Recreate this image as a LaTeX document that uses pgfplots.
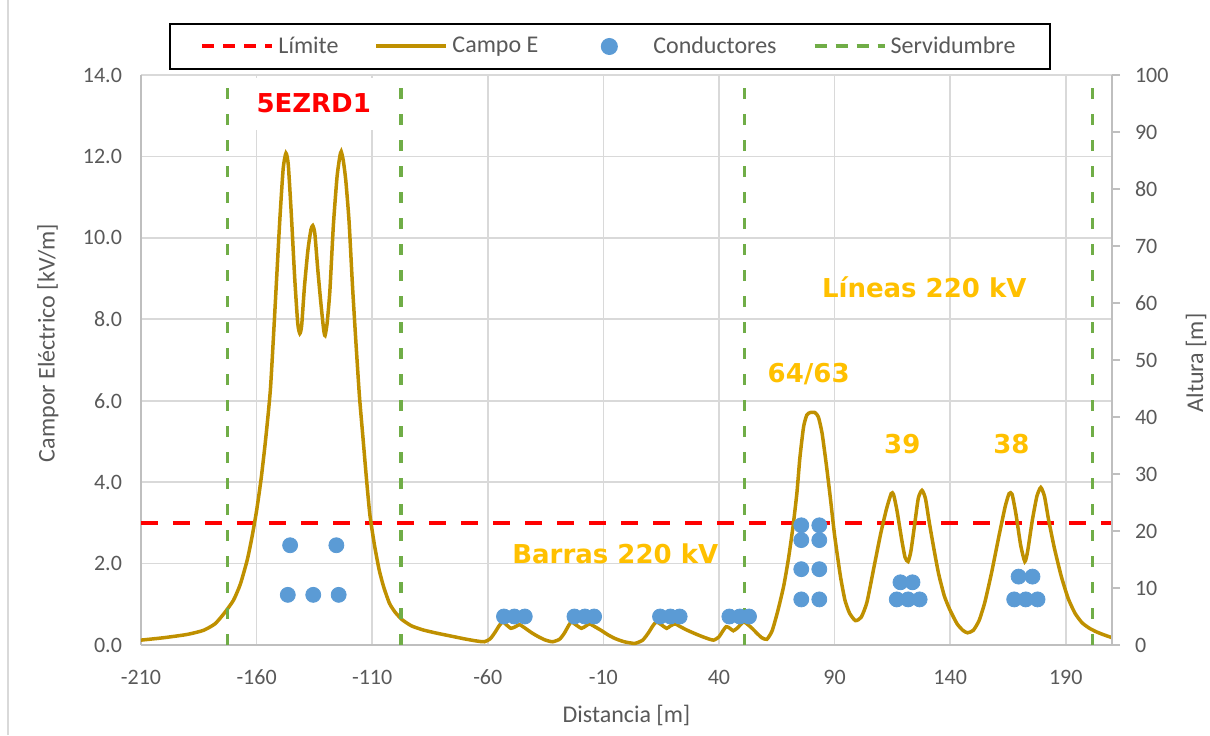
\documentclass[border=0pt]{standalone}
\usepackage{fontspec}
\setmainfont{Carlito}
\newfontfamily\annfont{DejaVu Sans}
\usepackage{pgfplots}
\pgfplotsset{compat=1.18}
\definecolor{gold}{HTML}{BF9000}
\definecolor{cblue}{HTML}{5B9BD5}
\definecolor{sgreen}{HTML}{70AD47}
\definecolor{txtgray}{HTML}{595959}
\definecolor{gridgray}{HTML}{D9D9D9}
\definecolor{axgray}{HTML}{BFBFBF}
\definecolor{ann}{HTML}{FFC000}
\pgfplotsset{
  linelegend/.style={legend image code/.code={\draw[##1] (0pt,0pt) -- (35pt,0pt);}},
  dotlegend/.style={legend image code/.code={\path[draw=none,fill=none] (0pt,0pt) -- (37.5pt,0pt);\draw[##1] plot coordinates {(17.5pt,0pt)};}},
}

\pgfplotstableread{
x y
-210 0.12
-200 0.18
-190 0.26
-183 0.36
-178 0.52
-174 0.78
-170 1.1
-167 1.5
-164 2.1
-162 2.65
-160 3.3
-158 4.1
-156 5.1
-154 6.3
-152 8.3
-150 10.4
-148.5 11.7
-147.3 12.08
-146.3 11.8
-145 10.6
-143.5 9.0
-142.2 7.9
-141.3 7.65
-140.5 7.85
-139.3 8.8
-137.8 9.7
-136.5 10.2
-135.7 10.3
-134.8 10.1
-133.5 9.2
-132.2 8.4
-131.0 7.75
-130.4 7.6
-129.5 7.9
-128.3 8.7
-126.8 10.3
-125.2 11.5
-124.0 12.0
-123.4 12.12
-122.5 11.9
-121.4 11.4
-120 10.4
-118.5 8.8
-117 7.4
-115.5 6.1
-114 5.1
-112.5 4.1
-111 3.2
-109 2.45
-107 1.85
-105 1.42
-102.5 1.02
-100 0.8
-97 0.62
-93 0.47
-88 0.37
-82 0.29
-76 0.22
-70 0.15
-65 0.1
-61.5 0.08
-59 0.15
-57 0.3
-55 0.48
-53.5 0.57
-52 0.5
-50 0.41
-48 0.45
-46.3 0.5
-44 0.42
-41 0.3
-38 0.2
-35 0.12
-32 0.08
-29 0.14
-27 0.28
-25 0.48
-23.8 0.57
-22 0.5
-19.5 0.41
-17.5 0.47
-16 0.52
-14 0.46
-11 0.36
-8 0.25
-5 0.16
-1 0.08
3.6 0.04
7 0.12
9.5 0.3
11.5 0.48
13 0.57
15 0.5
17.4 0.41
19 0.47
21 0.52
23 0.46
26 0.37
30 0.27
34 0.18
37.6 0.12
40 0.2
41.5 0.33
43.1 0.45
44.5 0.42
46.2 0.35
48 0.42
50.6 0.57
52.5 0.5
54.5 0.4
56.4 0.29
58.5 0.18
60.7 0.14
63 0.35
65.5 0.85
68 1.45
70 2.1
72 2.9
73.7 3.73
75 4.6
76.6 5.36
78 5.65
79.5 5.71
81.5 5.71
83 5.6
84.6 5.2
86.5 4.4
88.2 3.6
90 2.7
92.5 1.7
94.5 1.1
96.5 0.78
99 0.6
101.5 0.68
104 1.05
107 1.9
110 2.75
112.5 3.35
114.5 3.72
115.5 3.7
117 3.3
119 2.6
120.5 2.15
121.8 2.05
123 2.3
124.5 2.9
126.2 3.6
127.8 3.8
129.3 3.6
131 3.0
133 2.35
135 1.75
137.5 1.2
140 0.85
143 0.52
145.5 0.36
147.5 0.3
150 0.36
152.5 0.6
155 1.05
158 1.8
161 2.65
163.8 3.4
165.5 3.72
166.8 3.7
168.5 3.2
170.5 2.45
172.3 2.05
173.5 2.3
175.5 3.05
177.5 3.65
179.2 3.87
180.8 3.65
182.5 3.1
185 2.4
188 1.7
191 1.15
194 0.78
197 0.55
200 0.42
203 0.33
206 0.26
210 0.18
}\campo

\pgfplotstableread{
x h
-146.5 8.8
-135.5 8.8
-124.5 8.8
-145.5 17.5
-125.5 17.5
-53 5
-48.5 5
-44 5
-22.5 5
-18 5
-14 5
14.5 5
19 5
23 5
44.5 5
49 5
53 5
75.6 8
83.4 8
75.6 13.3
83.4 13.3
75.6 18.4
83.4 18.4
75.6 21
83.4 21
116.9 8
121.8 8
126.8 8
118.5 11
123.7 11
167.7 8
172.7 8
177.8 8
169.6 12
175.6 12
}\cond

\begin{document}
\begin{tikzpicture}
\useasboundingbox (-70.5pt,-45pt) rectangle (534.5pt,322.5pt);
\draw[gridgray, line width=0.6pt] (-66.5pt,-45pt) -- (-66.5pt,322.5pt);
\begin{axis}[
  at={(0,0)}, anchor=south west,
  scale only axis, width=485.5pt, height=285pt,
  xmin=-210, xmax=210, ymin=0, ymax=14,
  xtick={-210,-160,...,190}, ytick={0,2,...,14},
  axis y line*=left, axis x line*=bottom,
  axis line style={axgray, line width=1pt, -},
  grid=major, grid style={gridgray, line width=0.8pt},
  major tick length=0pt,
  /pgf/number format/assume math mode=true,
  y tick label style={/pgf/number format/fixed, /pgf/number format/fixed zerofill, /pgf/number format/precision=1, xshift=-6pt},
  ticklabel style={font=\fontsize{11}{13}\selectfont, text=txtgray},
  x tick label style={yshift=-9pt},
  xlabel={Distancia [m]},
  ylabel={Campor Eléctrico [kV/m]},
  label style={font=\fontsize{12}{14}\selectfont, text=txtgray},
  x label style={at={(axis description cs:0.5,-0.1228)}, anchor=center},
  y label style={at={(axis description cs:-0.0958,0.53)}, anchor=center},
]
\addplot[red, line width=2pt, dash pattern=on 8.3pt off 7.7pt] coordinates {(-210,3) (210,3)};
\addplot[gold, line width=1.75pt, smooth, tension=0.35] table[x=x,y=y] {\campo};
\addplot[sgreen, line width=1.6pt, dash pattern=on 5.5pt off 7.5pt] coordinates {(-172.5,0) (-172.5,14)};
\addplot[sgreen, line width=1.6pt, dash pattern=on 5.5pt off 7.5pt] coordinates {(-97.5,0) (-97.5,14)};
\addplot[sgreen, line width=1.6pt, dash pattern=on 5.5pt off 7.5pt] coordinates {(51,0) (51,14)};
\addplot[sgreen, line width=1.6pt, dash pattern=on 5.5pt off 7.5pt] coordinates {(201.5,0) (201.5,14)};
\node[font=\annfont\bfseries\fontsize{13}{15}\selectfont, text=red, fill=white, inner xsep=2pt, minimum height=26pt] at (axis cs:-135.3,13.3) {5EZRD1};
\node[font=\annfont\bfseries\fontsize{13}{15}\selectfont, text=ann] at (axis cs:128.8,8.78) {Líneas 220 kV};
\node[font=\annfont\bfseries\fontsize{13}{15}\selectfont, text=ann] at (axis cs:78.8,6.66) {64/63};
\node[font=\annfont\bfseries\fontsize{13}{15}\selectfont, text=ann] at (axis cs:119.3,4.93) {39};
\node[font=\annfont\bfseries\fontsize{13}{15}\selectfont, text=ann] at (axis cs:166.5,4.93) {38};
\node[font=\annfont\bfseries\fontsize{13}{15}\selectfont, text=ann] at (axis cs:-4.85,2.23) {Barras 220 kV};
\end{axis}
\begin{axis}[
  at={(0,0)}, anchor=south west,
  scale only axis, width=485.5pt, height=285pt,
  xmin=-210, xmax=210, ymin=0, ymax=100,
  hide x axis,
  axis y line*=right,
  axis line style={axgray, line width=1pt, -},
  ytick={0,10,...,100},
  tick align=outside, major tick length=4pt,
  tick style={axgray, line width=1pt},
  /pgf/number format/assume math mode=true,
  ticklabel style={font=\fontsize{11}{13}\selectfont, text=txtgray},
  y tick label style={xshift=4pt},
  ylabel={Altura [m]},
  y label style={font=\fontsize{12}{14}\selectfont, text=txtgray, at={(axis description cs:1.0865,0.495)}, anchor=center},
  legend columns=4,
  legend style={at={(axis description cs:0.483,1.05)}, anchor=center,
    draw=black, line width=1pt, fill=white,
    font=\fontsize{12}{14}\selectfont, text=txtgray,
    inner xsep=15pt, inner ysep=4.5pt,
    /tikz/every even column/.append style={column sep=16pt}},
  linelegend,
]
\addlegendimage{red, line width=2pt, dash pattern=on 6pt off 4.5pt}
\addlegendentry{Límite}
\addlegendimage{gold, line width=2pt}
\addlegendentry{Campo E}
\addplot[only marks, mark=*, mark size=3.75pt, color=cblue, fill=cblue, draw=cblue, dotlegend] table[x=x,y=h] {\cond};
\addlegendentry{Conductores}
\addlegendimage{sgreen, line width=2pt, dash pattern=on 6pt off 4.5pt}
\addlegendentry{Servidumbre}
\end{axis}
\end{tikzpicture}
\end{document}
